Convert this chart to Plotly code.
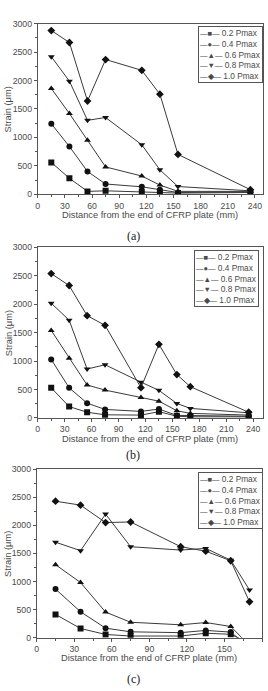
import plotly.graph_objects as go

# ---------------- data ----------------
series_names = ["0.2 Pmax", "0.4 Pmax", "0.6 Pmax", "0.8 Pmax", "1.0 Pmax"]
symbols = ["square", "circle", "triangle-up", "triangle-down", "diamond"]
legend_glyphs = ["■", "●", "▲", "▼", "◆"]

xa = [15, 35, 55, 75, 115, 135, 155, 235]
a_02 = [560, 280, 50, 60, 40, 30, 20, 30]
a_04 = [1240, 840, 400, 180, 130, 80, 30, 40]
a_06 = [1860, 1420, 950, 480, 320, 161, 50, 50]
a_08 = [2420, 1990, 1300, 1350, 870, 430, 135, 60]
a_10 = [2880, 2670, 1640, 2370, 2180, 1760, 700, 80]

xb = [15, 35, 55, 75, 115, 135, 155, 170, 235]
b_02 = [530, 200, 100, 55, 50, 110, 30, 20, 20]
b_04 = [1030, 530, 260, 150, 115, 156, 45, 40, 30]
b_06 = [1540, 1050, 580, 490, 358, 295, 127, 80, 50]
b_08 = [2020, 1720, 860, 936, 630, 485, 254, 168, 90]
b_10 = [2540, 2330, 1800, 1630, 532, 1295, 763, 550, 100]

xc = [15, 35, 55, 75, 115, 135, 155, 170]
c_02 = [415, 164, 58, 30, 30, 80, 60, -100]
c_04 = [865, 462, 170, 105, 90, 130, 100, -170]
c_06 = [1300, 982, 456, 275, 230, 270, 200, -140]
c_08 = [1700, 1550, 2200, 1620, 1560, 1590, 1380, 850]
c_10 = [2430, 2360, 2050, 2060, 1620, 1540, 1370, 640]

panels = [
    dict(x=xa, ys=[a_02, a_04, a_06, a_08, a_10], xrange=[0, 249], label="(a)"),
    dict(x=xb, ys=[b_02, b_04, b_06, b_08, b_10], xrange=[0, 251], label="(b)"),
    dict(x=xc, ys=[c_02, c_04, c_06, c_08, c_10], xrange=[0, 180], label="(c)"),
]

# ---------------- layout (pixel geometry) ----------------
W, H = 268, 691
boxes = [  # left, right, top, bottom in px
    (36, 263, 19, 192),
    (36, 263, 246, 419),
    (35, 262, 471, 642),
]
legend_pos = [(197, 21), (193, 249), (197, 474)]
label_y = [234, 457, 684]
xtitle_y = [213, 440, 663]

TXT = "#4a4a4a"
LINE = "#3a3a3a"
FONT = "Liberation Sans, Arial, sans-serif"

fig = go.Figure()
layout = dict(
    width=W, height=H, margin=dict(l=0, r=0, t=0, b=0),
    paper_bgcolor="white", plot_bgcolor="white", showlegend=False,
    font=dict(family=FONT, size=8.5, color=TXT),
)
annotations = []

for i, p in enumerate(panels):
    n = "" if i == 0 else str(i + 1)
    l, r, t, b = boxes[i]
    for k in range(5):
        fig.add_trace(go.Scatter(
            x=p["x"], y=p["ys"][k], mode="lines+markers", name=series_names[k],
            xaxis="x" + n, yaxis="y" + n,
            line=dict(color=LINE, width=1),
            marker=dict(symbol=symbols[k], size=6, color="#111111"),
            cliponaxis=True,
        ))
    axcommon = dict(
        showgrid=False, zeroline=False, showline=True, linecolor="#555555",
        linewidth=1, mirror=True, ticks="outside", ticklen=3, tickwidth=1,
        tickcolor="#555555", tickfont=dict(size=8.7, color=TXT, family=FONT),
    )
    layout["xaxis" + n] = dict(
        axcommon, domain=[l / W, r / W], anchor="y" + n,
        range=p["xrange"], tick0=0, dtick=30,
        minor=dict(dtick=15, ticks="outside", ticklen=2, tickcolor="#555555"),
    )
    layout["yaxis" + n] = dict(
        axcommon, domain=[1 - b / H, 1 - t / H], anchor="x" + n,
        range=[0, 3000], tick0=0, dtick=500,
        minor=dict(dtick=250, ticks="outside", ticklen=2, tickcolor="#555555"),
    )
    # axis titles
    annotations.append(dict(
        text="Distance from the end of CFRP plate (mm)", xref="paper", yref="paper",
        x=(l + r) / 2 / W, y=1 - xtitle_y[i] / H, xanchor="center", yanchor="middle",
        showarrow=False, font=dict(size=9.3, color=TXT, family=FONT),
    ))
    annotations.append(dict(
        text="Strain (μm)", xref="paper", yref="paper", textangle=-90,
        x=6.5 / W, y=1 - (t + b) / 2 / H, xanchor="center", yanchor="middle",
        showarrow=False, font=dict(size=9.3, color=TXT, family=FONT),
    ))
    # panel label
    annotations.append(dict(
        text=p["label"], xref="paper", yref="paper",
        x=132 / W, y=1 - label_y[i] / H, xanchor="center", yanchor="middle",
        showarrow=False, font=dict(size=12, color="#222222",
                                   family="Liberation Serif, Times New Roman, serif"),
    ))
    # legend box
    lx, ly = legend_pos[i]
    lines = [
        "<span style='font-size:7.5px'>—</span><span style='font-size:7.5px'>%s</span>"
        "<span style='font-size:7.5px'>—</span> %s" % (legend_glyphs[k], series_names[k])
        for k in range(5)
    ]
    annotations.append(dict(
        text="<br>".join(lines), xref="paper", yref="paper",
        x=lx / W, y=1 - ly / H, xanchor="left", yanchor="top", align="left",
        showarrow=False, bordercolor="#555555", borderwidth=1, borderpad=1,
        bgcolor="white", font=dict(size=8.3, color=TXT, family=FONT),
    ))

layout["annotations"] = annotations
fig.update_layout(**layout)
fig.write_html("out.html")
